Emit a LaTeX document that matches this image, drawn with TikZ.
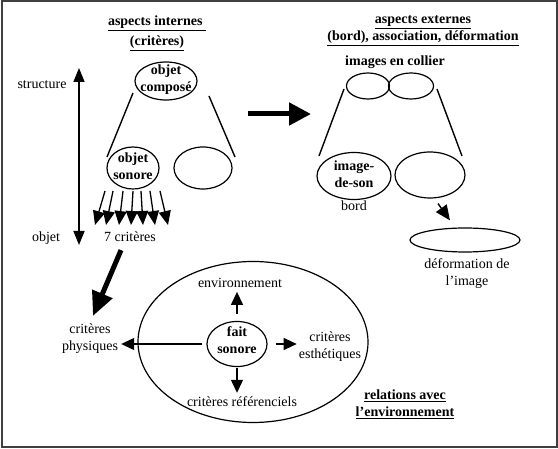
\documentclass[tikz,border=0pt]{standalone}
\usepackage{fontspec}
\setmainfont{Liberation Serif}
\usetikzlibrary{shapes.geometric, arrows.meta, positioning, calc}

\begin{document}
\begin{tikzpicture}[
    x=1pt, y=-1pt,
    txt/.style={font=\fontsize{14}{17}\selectfont, align=center, inner sep=0pt},
    btxt/.style={txt, font=\fontsize{14}{17}\selectfont\bfseries},
    blob/.style={ellipse, draw, line width=1.2pt, inner sep=0pt},
    cone/.style={line width=1.4pt},
    arrow/.style={-{Triangle[length=13pt, width=12pt]}, line width=1.3pt},
    fan/.style={-{Triangle[length=14pt, width=12pt]}, line width=1.3pt},
    bigarrow/.style={-{Triangle[length=22pt, width=22pt]}, line width=5pt}
]
    \useasboundingbox (0,0) rectangle (558,449);
    \draw[line width=2pt, black!75] (1.5,1.5) rectangle (556.5,447.5);

    % Titles
    \node[btxt] (titInt) at (157,33) {\underline{aspects internes\ }\\[3pt]\underline{(critères)}};
    \node[btxt] (titExt) at (423,31) {\underline{aspects externes}\\\underline{(bord), association, déformation}};

    % Left half: internal aspects
    \node[txt] (struct) at (42,85) {structure};
    \node[txt] (objet) at (46,238) {objet};
    \node[txt] (crit7) at (130,237) {7 critères};
    \coordinate (axTop) at (79,68);
    \coordinate (axBot) at (79,245);
    \draw[{Triangle[length=14pt, width=11pt]}-{Triangle[length=14pt, width=11pt]}, line width=1.5pt] (axTop) -- (axBot);

    \node[blob, minimum width=62, minimum height=38] (compose) at (166,81) {};
    \node[btxt] (composeTxt) at (166,80) {objet\\composé};
    \node[blob, minimum width=52, minimum height=42] (sonore) at (133,168) {};
    \node[btxt] (sonoreTxt) at (133,166) {objet\\sonore};
    \node[blob, minimum width=58, minimum height=42] (vide1) at (203,168) {};

    \coordinate (coneL1) at (133,93);
    \coordinate (coneL2) at (107,157);
    \coordinate (coneR1) at (209,96);
    \coordinate (coneR2) at (235,157);
    \draw[cone] (coneL1) -- (coneL2);
    \draw[cone] (coneR1) -- (coneR2);

    % the seven criteria
    \foreach \a/\b in {105/95, 113/106, 123/119, 133/131, 141/143, 150/155, 160/168}
        \draw[fan] (\a,191) -- (\b,225);

    % Passage to external aspects
    \coordinate (midA) at (248,114);
    \coordinate (midB) at (311,114);
    \draw[bigarrow] (midA) -- (midB);

    % Right half: external aspects
    \node[btxt] (collier) at (395,62) {images en collier};
    \node[blob, minimum width=43, minimum height=26] (collierA) at (368,86) {};
    \node[blob, minimum width=45, minimum height=26] (collierB) at (411,86) {};
    \coordinate (coneL3) at (344,89);
    \coordinate (coneL4) at (319,156);
    \coordinate (coneR3) at (437,89);
    \coordinate (coneR4) at (462,156);
    \draw[cone] (coneL3) -- (coneL4);
    \draw[cone] (coneR3) -- (coneR4);

    \node[blob, minimum width=74, minimum height=47] (imgson) at (354,176) {};
    \node[btxt] (imgsonTxt) at (354,174) {image-\\de-son};
    \node[blob, minimum width=70, minimum height=46] (vide2) at (430,175) {};
    \node[txt, below=0pt of imgson] (bord) {bord};

    \node[blob, minimum width=110, minimum height=24] (deform) at (465,240) {};
    \node[txt] (deformTxt) at (467,274) {déformation de\\l’image};
    \draw[-{Triangle[length=15pt, width=13pt]}, line width=1.4pt] ($(vide2.south)+(8,5)$) -- ($(deform.north)+(-15,-7)$);

    % Relations with the environment
    \node[blob, minimum width=230, minimum height=161] (monde) at (253,342) {};
    \node[blob, minimum width=60, minimum height=45] (fait) at (237,344) {};
    \node[btxt] (faitTxt) at (237,340) {fait\\sonore};
    \node[txt] (env) at (240,283) {environnement};
    \node[txt] (esth) at (330,347) {critères\\esthétiques};
    \node[txt] (ref) at (242,402) {critères référenciels};
    \node[txt] (phys) at (90,339) {critères\\physiques};
    \node[btxt] (rel) at (405,404) {\underline{relations avec}\\\underline{l’environnement}};

    \draw[arrow, shorten <=7pt, shorten >=4pt] (fait.north) -- (fait.north |- env.south);
    \draw[arrow, shorten <=1pt, shorten >=4pt] (fait.south) -- (fait.south |- ref.north);
    \draw[arrow, shorten <=4pt, shorten >=3pt] (fait.west) -- (fait.west -| phys.east);
    \draw[arrow, shorten <=8pt, shorten >=2pt] (fait.east) -- (fait.east -| esth.west);

    \draw[-{Triangle[length=24pt, width=21pt]}, line width=5pt] ($(crit7.south)+(-9,8)$) -- ($(phys.north)+(3,-8)$);

\end{tikzpicture}
\end{document}
